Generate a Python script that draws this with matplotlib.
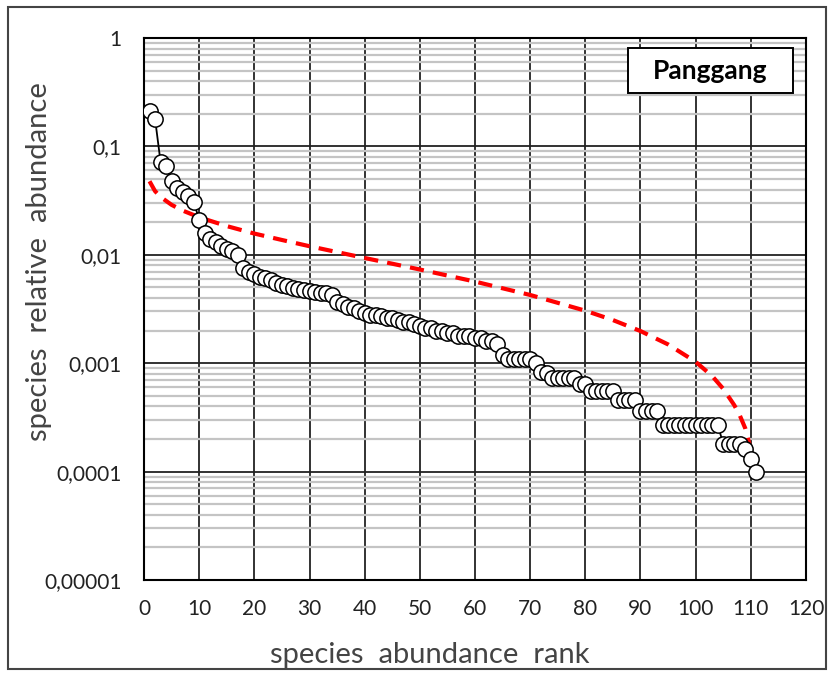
import numpy as np
import matplotlib
matplotlib.use("Agg")
import matplotlib.pyplot as plt
from matplotlib.patches import Rectangle
from matplotlib.ticker import FixedLocator, FixedFormatter, LogLocator, NullFormatter

plt.rcParams["font.family"] = ["Lato", "DejaVu Sans"]

# observed relative abundance, ranked (111 species)
observed = [
    0.21, 0.18, 0.072, 0.066, 0.048, 0.041, 0.038, 0.035, 0.031, 0.021,
    0.016, 0.014, 0.013, 0.012, 0.0113, 0.0108, 0.0099, 0.0076, 0.0070, 0.0066,
    0.0063, 0.0061, 0.0058, 0.0055, 0.0053, 0.0051, 0.0049, 0.0048, 0.0047, 0.0046,
    0.0045, 0.0044, 0.0044, 0.0043, 0.0037, 0.0035, 0.0033, 0.0032, 0.0030, 0.0029,
    0.0028, 0.0028, 0.0027, 0.0026, 0.0026, 0.0025, 0.0024, 0.0024, 0.0023, 0.0022,
    0.0021, 0.0021, 0.0020, 0.0020, 0.0019, 0.0019, 0.0018, 0.0018, 0.0018, 0.0017,
    0.0017, 0.0016, 0.0016, 0.0015, 0.0012, 0.0011, 0.0011, 0.0011, 0.0011, 0.0011,
    0.00100, 0.00083, 0.00082, 0.00073, 0.00073, 0.00073, 0.00073, 0.00073, 0.00064, 0.00064,
    0.00055, 0.00055, 0.00055, 0.00055, 0.00055, 0.00046, 0.00046, 0.00046, 0.00046, 0.00036,
    0.00036, 0.00036, 0.00036, 0.00027, 0.00027, 0.00027, 0.00027, 0.00027, 0.00027, 0.00027,
    0.00027, 0.00027, 0.00027, 0.00027, 0.00018, 0.00018, 0.00018, 0.00018, 0.00016, 0.00013,
    0.00010,
]
obs_rank = np.arange(1, len(observed) + 1)

# broken-stick expectation
stick_rank = [1, 2, 3, 5, 7, 10, 15, 20, 25, 30, 40, 50, 60, 70, 80, 85,
              90, 95, 100, 103, 105, 107, 108, 109, 110, 111]
stick = [0.0477, 0.0387, 0.0342, 0.0289, 0.0256, 0.0222, 0.0184, 0.0157, 0.0137,
         0.0120, 0.00935, 0.00732, 0.00566, 0.00426, 0.00305, 0.00250, 0.00198,
         0.00149, 0.00103, 0.00076, 0.00058, 0.00041, 0.00033, 0.00025, 0.00016,
         0.000081]

y_ticks = [1e-5, 1e-4, 1e-3, 1e-2, 1e-1, 1]
y_labels = ["0,00001", "0,0001", "0,001", "0,01", "0,1", "1"]
x_ticks = list(range(0, 121, 10))

fig = plt.figure(figsize=(8.33, 6.75), dpi=100)
ax = fig.add_axes([144 / 833, 1 - 580 / 675, (806 - 144) / 833, (580 - 38) / 675])

ax.set_yscale("log")
ax.set_xlim(0, 120)
ax.set_ylim(1e-5, 1)

ax.yaxis.set_major_locator(FixedLocator(y_ticks))
ax.yaxis.set_major_formatter(FixedFormatter(y_labels))
ax.yaxis.set_minor_locator(LogLocator(base=10, subs=np.arange(2, 10), numticks=20))
ax.yaxis.set_minor_formatter(NullFormatter())
ax.set_xticks(x_ticks)

ax.grid(which="minor", axis="y", color="#c4c4c4", linewidth=1.6)
ax.grid(which="major", axis="y", color="#222222", linewidth=1.3)
ax.grid(which="major", axis="x", color="#222222", linewidth=1.3)
ax.set_axisbelow(True)
ax.tick_params(which="both", length=0, labelsize=15, colors="#222222")
ax.tick_params(axis="x", pad=14)
ax.tick_params(axis="y", pad=16)

for sp in ax.spines.values():
    sp.set_color("black")
    sp.set_linewidth(1.5)

ax.plot(stick_rank, stick, color="#ff0000", linewidth=3, dashes=(3.4, 2.2), zorder=3)
ax.plot(obs_rank, observed, color="black", linewidth=1.3, marker="o", markersize=11,
        markerfacecolor="white", markeredgecolor="black", markeredgewidth=1.1, zorder=4)

ax.set_xlabel("species  abundance  rank", fontsize=21, color="#444444")
ax.set_ylabel("species  relative  abundance", fontsize=21, color="#444444")
ax.xaxis.set_label_coords(0.432, -0.114)
ax.yaxis.set_label_coords(-0.139, 0.587)

# site name box in the upper right corner
ax.add_patch(Rectangle((0.731, 0.8985), 0.249, 0.083, transform=ax.transAxes,
                       facecolor="white", edgecolor="black", linewidth=1.4, zorder=6))
ax.text(0.855, 0.940, "Panggang", transform=ax.transAxes, ha="center", va="center",
        fontsize=19, fontweight="bold", color="black", zorder=7)

# outer frame around the whole chart
fig.patches.append(Rectangle((8 / 833, 6 / 675), 818 / 833, 662 / 675, transform=fig.transFigure,
                             fill=False, edgecolor="#444444", linewidth=1.5))

fig.savefig("out.png", dpi=100)
